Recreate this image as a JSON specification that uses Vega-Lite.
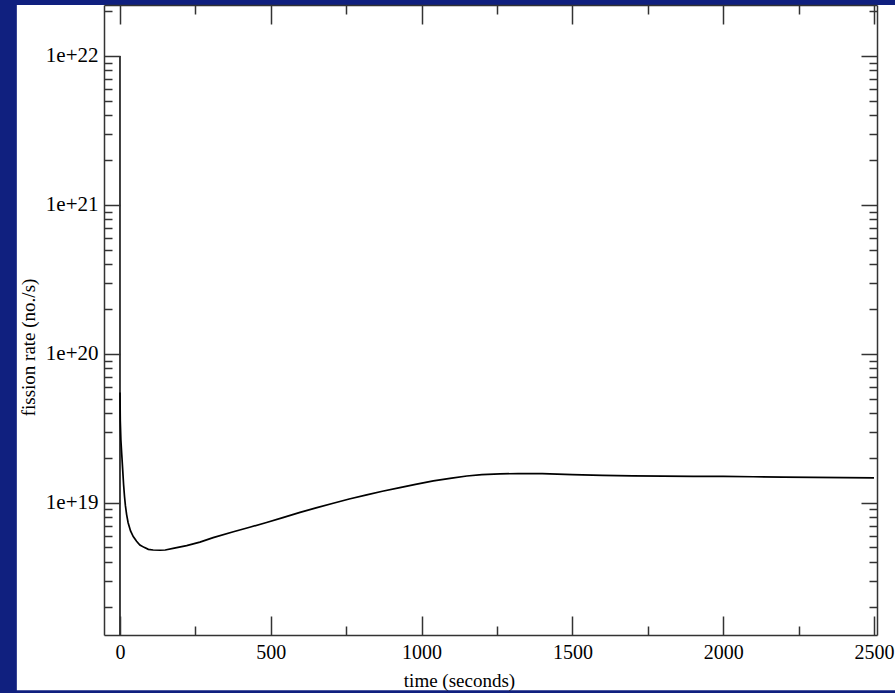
{
  "$schema": "https://vega.github.io/schema/vega-lite/v6.json",
  "width": 773,
  "height": 630,
  "autosize": {"type": "none"},
  "padding": {"left": 104, "top": 5, "right": 18, "bottom": 58},
  "background": "#10207f",
  "config": {
    "view": {"stroke": null},
    "axis": {
      "grid": false,
      "labelFont": "Liberation Serif",
      "titleFont": "Liberation Serif",
      "labelColor": "#000000",
      "titleColor": "#000000",
      "titleFontWeight": "normal",
      "domainColor": "#333333",
      "domainWidth": 1.5,
      "tickColor": "#333333",
      "tickWidth": 1.5,
      "labelFlush": false,
      "labelOverlap": false
    }
  },
  "resolve": {"axis": {"x": "independent", "y": "independent"}},
  "data": {
    "values": [
      {"t": 0, "rate": 5.50e19},
      {"t": 1, "rate": 3.55e19},
      {"t": 3, "rate": 2.63e19},
      {"t": 6, "rate": 2.09e19},
      {"t": 9, "rate": 1.66e19},
      {"t": 12, "rate": 1.32e19},
      {"t": 15, "rate": 1.10e19},
      {"t": 18, "rate": 9.55e18},
      {"t": 22, "rate": 8.32e18},
      {"t": 27, "rate": 7.33e18},
      {"t": 35, "rate": 6.46e18},
      {"t": 44, "rate": 5.92e18},
      {"t": 55, "rate": 5.50e18},
      {"t": 66, "rate": 5.20e18},
      {"t": 80, "rate": 5.01e18},
      {"t": 94, "rate": 4.86e18},
      {"t": 110, "rate": 4.81e18},
      {"t": 133, "rate": 4.79e18},
      {"t": 150, "rate": 4.81e18},
      {"t": 180, "rate": 4.95e18},
      {"t": 221, "rate": 5.15e18},
      {"t": 265, "rate": 5.43e18},
      {"t": 309, "rate": 5.82e18},
      {"t": 376, "rate": 6.38e18},
      {"t": 430, "rate": 6.84e18},
      {"t": 486, "rate": 7.36e18},
      {"t": 540, "rate": 7.94e18},
      {"t": 597, "rate": 8.61e18},
      {"t": 650, "rate": 9.23e18},
      {"t": 707, "rate": 9.91e18},
      {"t": 760, "rate": 1.059e19},
      {"t": 818, "rate": 1.127e19},
      {"t": 870, "rate": 1.194e19},
      {"t": 928, "rate": 1.262e19},
      {"t": 980, "rate": 1.327e19},
      {"t": 1039, "rate": 1.400e19},
      {"t": 1100, "rate": 1.462e19},
      {"t": 1150, "rate": 1.510e19},
      {"t": 1200, "rate": 1.542e19},
      {"t": 1260, "rate": 1.560e19},
      {"t": 1320, "rate": 1.570e19},
      {"t": 1400, "rate": 1.567e19},
      {"t": 1500, "rate": 1.542e19},
      {"t": 1600, "rate": 1.524e19},
      {"t": 1700, "rate": 1.514e19},
      {"t": 1800, "rate": 1.507e19},
      {"t": 1900, "rate": 1.503e19},
      {"t": 2000, "rate": 1.500e19},
      {"t": 2100, "rate": 1.493e19},
      {"t": 2200, "rate": 1.486e19},
      {"t": 2300, "rate": 1.479e19},
      {"t": 2400, "rate": 1.472e19},
      {"t": 2500, "rate": 1.466e19}
    ]
  },
  "layer": [
    {
      "data": {"values": [{}]},
      "mark": {"type": "rect", "fill": "#ffffff", "clip": false},
      "encoding": {
        "x": {"datum": -342, "type": "quantitative", "scale": {"type": "linear", "domain": [-53, 2510], "nice": false, "zero": false}, "axis": null},
        "x2": {"datum": 2600},
        "y": {"datum": 5.5e17, "type": "quantitative", "scale": {"type": "log", "domain": [1.292e18, 2.2e22], "nice": false}, "axis": null},
        "y2": {"datum": 2.2e22}
      }
    },
    {
      "data": {"values": [{"t": 0, "lo": 1e18, "hi": 1e22}]},
      "mark": {"type": "rule", "color": "#000000", "strokeWidth": 1.5, "clip": true},
      "encoding": {
        "x": {"field": "t", "type": "quantitative", "scale": {"type": "linear", "domain": [-53, 2510], "nice": false, "zero": false}, "axis": null},
        "y": {"field": "hi", "type": "quantitative", "scale": {"type": "log", "domain": [1.292e18, 2.2e22], "nice": false}, "axis": null},
        "y2": {"field": "lo"}
      }
    },
    {
      "mark": {"type": "line", "color": "#000000", "strokeWidth": 1.7, "clip": true},
      "encoding": {
        "x": {
          "field": "t", "type": "quantitative",
          "scale": {"type": "linear", "domain": [-53, 2510], "nice": false, "zero": false},
          "axis": {
            "orient": "bottom", "zindex": 2, "values": [0, 500, 1000, 1500, 2000, 2500], "format": "d",
            "ticks": false, "tickSize": 0, "domain": true,
            "labelFontSize": 20, "labelPadding": 7,
            "title": "time (seconds)", "titleFontSize": 19,
            "titleX": 355, "titleY": 51, "titleBaseline": "alphabetic", "titleAlign": "center"
          }
        },
        "y": {
          "field": "rate", "type": "quantitative",
          "scale": {"type": "log", "domain": [1.292e18, 2.2e22], "nice": false},
          "axis": {
            "orient": "left", "zindex": 2, "values": [1e19, 1e20, 1e21, 1e22], "format": ".0e",
            "ticks": false, "tickSize": 0, "domain": true,
            "labelFontSize": 21, "labelPadding": 6,
            "title": "fission rate (no./s)", "titleFontSize": 19, "titleAngle": -90,
            "titleX": -70, "titleY": 342, "titleBaseline": "alphabetic", "titleAlign": "center"
          }
        }
      }
    },
    {
      "mark": {"type": "line", "strokeOpacity": 0},
      "encoding": {
        "x": {
          "field": "t", "type": "quantitative",
          "scale": {"type": "linear", "domain": [-53, 2510], "nice": false, "zero": false},
          "axis": {"orient": "bottom", "zindex": 2, "values": [0, 500, 1000, 1500, 2000, 2500], "labels": false, "domain": false, "tickSize": -19, "title": null}
        },
        "y": {
          "field": "rate", "type": "quantitative",
          "scale": {"type": "log", "domain": [1.292e18, 2.2e22], "nice": false},
          "axis": {"orient": "left", "zindex": 2, "values": [1e19, 1e20, 1e21, 1e22], "labels": false, "domain": false, "tickSize": -16, "title": null}
        }
      }
    },
    {
      "mark": {"type": "line", "strokeOpacity": 0},
      "encoding": {
        "x": {
          "field": "t", "type": "quantitative",
          "scale": {"type": "linear", "domain": [-53, 2510], "nice": false, "zero": false},
          "axis": {"orient": "bottom", "zindex": 2, "values": [250, 750, 1250, 1750, 2250], "labels": false, "domain": false, "tickSize": -9, "title": null}
        },
        "y": {
          "field": "rate", "type": "quantitative",
          "scale": {"type": "log", "domain": [1.292e18, 2.2e22], "nice": false},
          "axis": {"orient": "left", "zindex": 2, "values": [2e18, 3e18, 4e18, 5e18, 6e18, 7e18, 8e18, 9e18, 2e19, 3e19, 4e19, 5e19, 6e19, 7e19, 8e19, 9e19, 2e20, 3e20, 4e20, 5e20, 6e20, 7e20, 8e20, 9e20, 2e21, 3e21, 4e21, 5e21, 6e21, 7e21, 8e21, 9e21, 2e22], "labels": false, "domain": false, "tickSize": -8, "title": null}
        }
      }
    },
    {
      "mark": {"type": "line", "strokeOpacity": 0},
      "encoding": {
        "x": {
          "field": "t", "type": "quantitative",
          "scale": {"type": "linear", "domain": [-53, 2510], "nice": false, "zero": false},
          "axis": {"orient": "top", "zindex": 2, "values": [0, 500, 1000, 1500, 2000, 2500], "labels": false, "domain": true, "tickSize": -19, "title": null}
        },
        "y": {
          "field": "rate", "type": "quantitative",
          "scale": {"type": "log", "domain": [1.292e18, 2.2e22], "nice": false},
          "axis": {"orient": "right", "zindex": 2, "values": [1e19, 1e20, 1e21, 1e22], "labels": false, "domain": true, "tickSize": -16, "title": null}
        }
      }
    },
    {
      "mark": {"type": "line", "strokeOpacity": 0},
      "encoding": {
        "x": {
          "field": "t", "type": "quantitative",
          "scale": {"type": "linear", "domain": [-53, 2510], "nice": false, "zero": false},
          "axis": {"orient": "top", "zindex": 2, "values": [250, 750, 1250, 1750, 2250], "labels": false, "domain": false, "tickSize": -9, "title": null}
        },
        "y": {
          "field": "rate", "type": "quantitative",
          "scale": {"type": "log", "domain": [1.292e18, 2.2e22], "nice": false},
          "axis": {"orient": "right", "zindex": 2, "values": [2e18, 3e18, 4e18, 5e18, 6e18, 7e18, 8e18, 9e18, 2e19, 3e19, 4e19, 5e19, 6e19, 7e19, 8e19, 9e19, 2e20, 3e20, 4e20, 5e20, 6e20, 7e20, 8e20, 9e20, 2e21, 3e21, 4e21, 5e21, 6e21, 7e21, 8e21, 9e21, 2e22], "labels": false, "domain": false, "tickSize": -8, "title": null}
        }
      }
    }
  ]
}
